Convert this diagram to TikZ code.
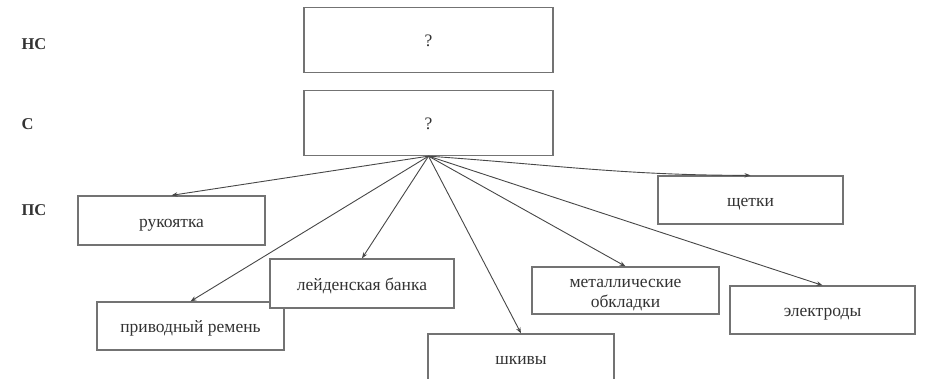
\documentclass[tikz,border=0pt]{standalone}
\usepackage{fontspec}
\setmainfont{Liberation Serif}
\usetikzlibrary{arrows.meta}
\begin{document}
\begin{tikzpicture}[x=1pt,y=-1pt,
  box/.style={draw=black!55,line width=1.3pt,fill=white,inner sep=0pt,
    minimum width=186pt,minimum height=48pt,text height=14.5pt,text depth=1pt,
    font=\fontsize{17.5}{19.5}\selectfont,text=black!80},
  bigbox/.style={box,minimum width=249pt,minimum height=65pt},
  lvl/.style={font=\fontsize{16.5}{18}\selectfont\bfseries,text=black!80,inner sep=0pt},
  conn/.style={draw=black!72,line width=0.9pt,-{Stealth[length=6pt,width=4.5pt]}}]
\useasboundingbox (0,0) rectangle (928,379);
\clip (0,0) rectangle (928,379);
\node[lvl] (lns) at (34,44) {НС};
\node[lvl] (lc) at (27.5,124) {С};
\node[lvl] (lps) at (34,210) {ПС};
\node[bigbox] (ns) at (428.5,40) {?};
\node[bigbox] (c) at (428.5,123) {?};
\node[box,minimum width=187pt,minimum height=49pt] (ruk) at (171.5,220.5) {рукоятка};
\node[box,minimum width=187pt] (rem) at (190.5,326) {приводный ремень};
\node[box,minimum width=184pt,minimum height=49pt] (lei) at (362,283.5) {лейденская банка};
\node[box] (shk) at (521,358) {шкивы};
\node[box,minimum width=187pt,minimum height=47pt,text height=16.4pt,text depth=1.6pt] (met) at (625.5,290.5)
  {\begin{tabular}{@{}c@{}}металлические\\обкладки\end{tabular}};
\node[box,minimum width=185pt] (ele) at (822.5,310) {электроды};
\node[box,minimum width=185pt] (shch) at (750.5,200) {щетки};
\draw[conn] (c.south) -- (ruk.north);
\draw[conn] (c.south) -- (rem.north);
\draw[conn] (c.south) -- (lei.north);
\draw[conn] (c.south) -- (shk.north);
\draw[conn] (c.south) -- (met.north);
\draw[conn] (c.south) -- (ele.north);
\draw[conn] (c.south) to[out=-4,in=180] (shch.north);
\end{tikzpicture}
\end{document}
